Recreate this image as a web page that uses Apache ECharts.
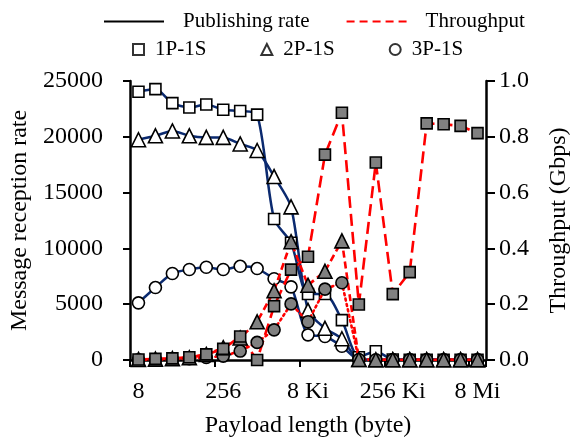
<!DOCTYPE html>
<html>
<head>
<meta charset="utf-8">
<script src="https://cdn.jsdelivr.net/npm/echarts@6/dist/echarts.min.js"></script>
<style>
  html, body { margin: 0; padding: 0; background: #fff; }
  #chart { width: 583px; height: 443px; }
</style>
</head>
<body>
<div id="chart"></div>
<script>
// payload sizes, 8 B .. 8 MiB, one per power of two
var payloads = ['8', '16', '32', '64', '128', '256', '512', '1 Ki', '2 Ki', '4 Ki', '8 Ki',
  '16 Ki', '32 Ki', '64 Ki', '128 Ki', '256 Ki', '512 Ki', '1 Mi', '2 Mi', '4 Mi', '8 Mi'];

// message reception rate (msg/s), left axis
var rate1P = [24035, 24272, 23018, 22632, 22895, 22430, 22316, 21991, 12632, 10500, 5912,
  5912, 3570, 250, 790, 40, 20, 20, 20, 20, 20];
var rate2P = [19737, 20088, 20526, 20088, 19947, 19947, 19360, 18772, 16439, 13720, 4447,
  2842, 1904, 60, 20, 20, 20, 20, 20, 20, 20];
var rate3P = [5123, 6491, 7755, 8105, 8307, 8105, 8395, 8193, 7281, 6553, 2254,
  2105, 1228, 40, 20, 20, 20, 20, 20, 20, 20];

// throughput (Gbps), right axis
var thr1P = [0.002, 0.004, 0.006, 0.010, 0.020, 0.040, 0.084, 0.000, 0.193, 0.324, 0.370,
  0.736, 0.886, 0.199, 0.708, 0.236, 0.315, 0.848, 0.845, 0.839, 0.813];
var thr2P = [0.002, 0.003, 0.005, 0.008, 0.020, 0.044, 0.079, 0.137, 0.248, 0.424, 0.268,
  0.318, 0.427, 0.002, 0.001, 0.001, 0.001, 0.001, 0.001, 0.001, 0.001];
var thr3P = [0.001, 0.002, 0.003, 0.005, 0.009, 0.014, 0.032, 0.063, 0.108, 0.201, 0.137,
  0.254, 0.277, 0.002, 0.001, 0.001, 0.001, 0.001, 0.001, 0.001, 0.001];

var leftTicks = [0, 5000, 10000, 15000, 20000, 25000];
var rightTicks = [0, 0.2, 0.4, 0.6, 0.8, 1.0];

var FONT = 'Liberation Serif';
var NAVY = '#0b2a6f';
var RED = '#ff0000';

function rateSeries(name, data, symbol, size) {
  return {
    name: name, type: 'line', yAxisIndex: 0, data: data,
    smooth: 0.25, symbol: symbol, symbolSize: size, showAllSymbol: true,
    lineStyle: { color: NAVY, width: 2.5 },
    itemStyle: { color: '#fff', borderColor: '#000', borderWidth: 1.6 },
    z: 2
  };
}
function thrSeries(name, data, symbol, size, dash, cap) {
  return {
    name: name, type: 'line', yAxisIndex: 1, data: data,
    symbol: symbol, symbolSize: size, showAllSymbol: true,
    lineStyle: { color: RED, width: 2.6, type: dash, cap: cap || 'butt' },
    itemStyle: { color: '#808080', borderColor: '#000', borderWidth: 1.6 },
    z: 3
  };
}

var chart = echarts.init(document.getElementById('chart'));
chart.setOption({
  animation: false,
  textStyle: { fontFamily: FONT, color: '#000' },
  grid: { left: 130, right: 97, top: 81, bottom: 77 },
  legend: [
    {
      data: ['Publishing rate', 'Throughput'],
      left: 103, top: 11, padding: 0, itemWidth: 60, itemHeight: 14, itemGap: 36,
      itemStyle: { opacity: 0 },
      textStyle: { fontFamily: FONT, fontSize: 21, color: '#000', padding: [0, 0, 0, 14] },
      selectedMode: false
    },
    {
      data: [
        { name: '1P-1S', icon: 'rect' },
        { name: '2P-1S', icon: 'triangle' },
        { name: '3P-1S', icon: 'circle' }
      ],
      left: 132, top: 39, padding: 0, itemWidth: 11, itemHeight: 11, itemGap: 54,
      textStyle: { fontFamily: FONT, fontSize: 21, color: '#000', padding: [0, 0, 0, 6] },
      selectedMode: false
    }
  ],
  xAxis: {
    type: 'category', data: payloads, boundaryGap: true,
    name: 'Payload length (byte)', nameLocation: 'middle', nameGap: 54,
    nameTextStyle: { fontFamily: FONT, fontSize: 24, color: '#000' },
    axisLine: { lineStyle: { color: '#000', width: 2.5 } },
    axisTick: { show: true, interval: 4, length: 7, lineStyle: { color: '#000', width: 2 } },
    axisLabel: { interval: 4, margin: 20, fontFamily: FONT, fontSize: 24, color: '#000' },
    splitLine: { show: false }
  },
  yAxis: [
    {
      type: 'value', min: leftTicks[0], max: leftTicks[leftTicks.length - 1], interval: 5000,
      name: 'Message reception rate', nameLocation: 'middle', nameGap: 82,
      nameTextStyle: { fontFamily: FONT, fontSize: 24, color: '#000' },
      axisLine: { show: true, lineStyle: { color: '#000', width: 2.5 } },
      axisTick: { show: true, length: 7, lineStyle: { color: '#000', width: 2 } },
      axisLabel: {
        margin: 27, fontFamily: FONT, fontSize: 24, color: '#000',
        formatter: function (v) { return String(v); }
      },
      splitLine: { show: false }
    },
    {
      type: 'value', min: rightTicks[0], max: rightTicks[rightTicks.length - 1], interval: 0.2,
      name: 'Throughput (Gbps)', nameLocation: 'middle', nameGap: 61,
      nameTextStyle: { fontFamily: FONT, fontSize: 24, color: '#000' },
      axisLine: { show: true, lineStyle: { color: '#000', width: 2.5 } },
      axisTick: { show: true, length: 9, lineStyle: { color: '#000', width: 2 } },
      axisLabel: {
        margin: 13, fontFamily: FONT, fontSize: 24, color: '#000',
        formatter: function (v) { return v.toFixed(1); }
      },
      splitLine: { show: false }
    }
  ],
  series: [
    // legend-only entries
    { name: 'Publishing rate', type: 'line', data: [], symbol: 'none',
      lineStyle: { color: '#000', width: 3 }, itemStyle: { color: '#000' } },
    { name: 'Throughput', type: 'line', data: [], symbol: 'none',
      lineStyle: { color: RED, width: 3, type: [8, 5] }, itemStyle: { color: RED } },
    { name: '1P-1S', type: 'scatter', data: [], symbol: 'rect',
      itemStyle: { color: '#fff', borderColor: '#000', borderWidth: 2.2 } },
    { name: '2P-1S', type: 'scatter', data: [], symbol: 'triangle',
      itemStyle: { color: '#fff', borderColor: '#000', borderWidth: 2.2 } },
    { name: '3P-1S', type: 'scatter', data: [], symbol: 'circle',
      itemStyle: { color: '#fff', borderColor: '#000', borderWidth: 2.2 } },

    thrSeries('thr 3P-1S', thr3P, 'circle', 12, [2, 3.5], 'round'),
    thrSeries('thr 2P-1S', thr2P, 'triangle', 14, [7, 4]),
    thrSeries('thr 1P-1S', thr1P, 'rect', 11, [12, 6]),
    rateSeries('rate 3P-1S', rate3P, 'circle', 12),
    rateSeries('rate 2P-1S', rate2P, 'triangle', 14),
    rateSeries('rate 1P-1S', rate1P, 'rect', 11)
  ]
});
</script>
</body>
</html>
